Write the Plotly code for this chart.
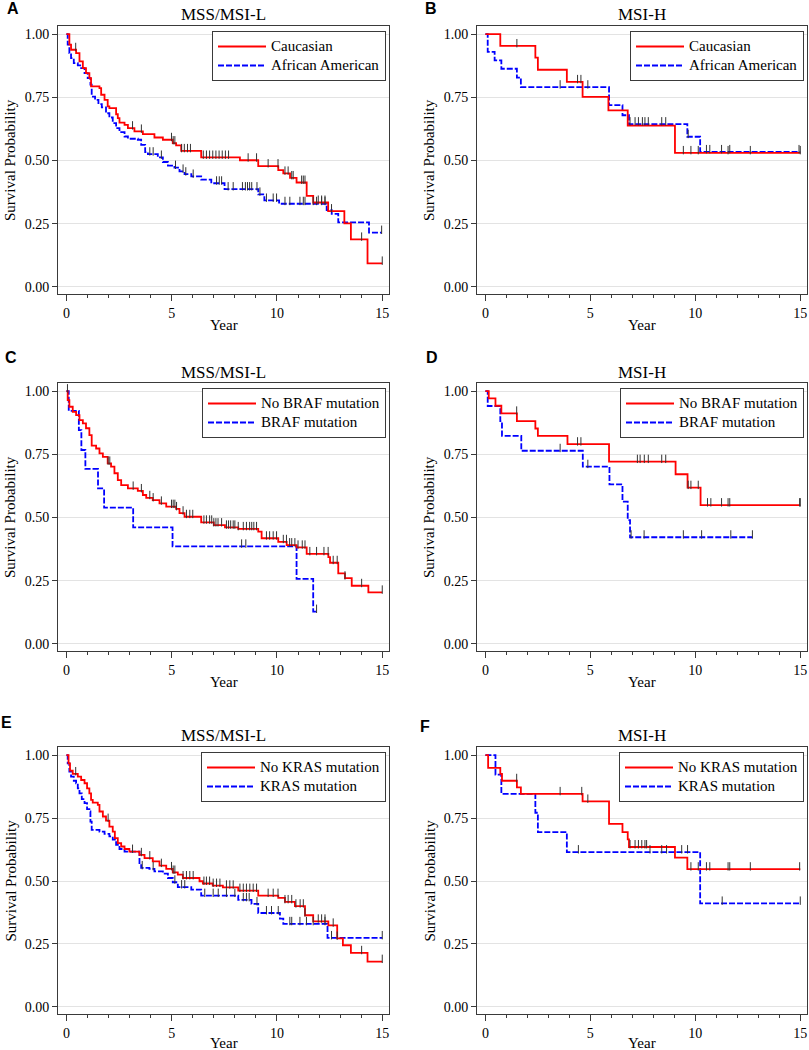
import numpy as np
import plotly.graph_objects as go

# ---------------- data ----------------
# Panel A: MSS/MSI-L, race
A_cau_t = [0, 0.14, 0.22, 0.46, 0.62, 0.78, 0.93, 1.09, 1.17, 1.57, 1.65, 1.81, 1.96, 2.04, 2.36, 2.44, 2.52, 2.76, 2.92, 3.23, 3.63, 4.18, 4.58, 5.05, 5.21, 5.45, 6.4, 8.24, 9.11, 10.06, 10.3, 10.62, 10.93, 11.41, 11.72, 12.43, 13.2, 13.51, 14.3, 15.0]
A_cau_s = [1.0, 0.958, 0.938, 0.925, 0.892, 0.865, 0.846, 0.826, 0.793, 0.786, 0.76, 0.74, 0.714, 0.707, 0.683, 0.668, 0.65, 0.641, 0.628, 0.615, 0.604, 0.591, 0.582, 0.569, 0.56, 0.538, 0.512, 0.501, 0.478, 0.462, 0.449, 0.431, 0.413, 0.36, 0.334, 0.30, 0.251, 0.188, 0.093, 0.093]
A_cau_c = [0.44, 3.14, 3.56, 4.99, 5.07, 5.15, 5.47, 5.6, 5.75, 5.89, 6.5, 6.65, 6.8, 6.95, 7.1, 7.25, 7.4, 7.55, 7.7, 8.63, 9.03, 9.58, 10.05, 10.38, 10.53, 10.7, 10.77, 11.17, 11.25, 11.33, 11.96, 12.12, 12.28, 12.59, 14.02, 15.0]
A_aa_t = [0, 0.06, 0.14, 0.22, 0.35, 0.54, 0.7, 0.86, 1.01, 1.14, 1.2, 1.36, 1.52, 1.68, 1.88, 2.04, 2.2, 2.36, 2.52, 2.76, 2.92, 3.39, 3.55, 3.74, 3.87, 4.34, 4.58, 4.82, 5.13, 5.37, 5.61, 5.93, 6.4, 6.88, 7.51, 9.11, 9.4, 10.1, 12.36, 12.6, 12.91, 14.37, 14.97]
A_aa_s = [1.0, 0.958, 0.925, 0.905, 0.885, 0.876, 0.865, 0.846, 0.826, 0.80, 0.753, 0.74, 0.723, 0.71, 0.687, 0.67, 0.648, 0.628, 0.612, 0.595, 0.586, 0.582, 0.562, 0.533, 0.525, 0.512, 0.494, 0.48, 0.472, 0.457, 0.446, 0.437, 0.424, 0.41, 0.387, 0.366, 0.342, 0.329, 0.304, 0.289, 0.255, 0.215, 0.215]
A_aa_c = [3.96, 4.12, 4.51, 5.18, 5.54, 5.67, 6.02, 7.13, 7.26, 7.37, 7.68, 7.92, 8.36, 8.5, 8.6, 8.7, 8.8, 9.05, 9.19, 9.5, 9.82, 9.98, 10.38, 10.61, 11.09, 11.25, 11.33, 11.72, 11.88, 12.12, 12.28, 14.97]

# Panel B: MSI-H, race
B_cau_t = [0, 0.71, 2.38, 2.5, 3.88, 4.63, 5.86, 6.78, 9.03, 15.0]
B_cau_s = [1.0, 0.953, 0.907, 0.859, 0.811, 0.752, 0.698, 0.638, 0.530, 0.530]
B_cau_c = [1.5, 4.39, 4.55, 9.43, 9.79, 10.14, 11.56, 12.62, 15.0]
B_aa_t = [0, 0.11, 0.44, 0.76, 1.5, 1.69, 5.89, 6.53, 6.84, 9.62, 10.23, 15.0]
B_aa_s = [1.0, 0.93, 0.896, 0.863, 0.828, 0.79, 0.719, 0.679, 0.644, 0.594, 0.534, 0.534]
B_aa_c = [3.56, 4.88, 6.89, 7.13, 7.29, 7.48, 7.6, 7.76, 8.4, 8.59, 9.66, 10.53, 10.69, 11.25, 11.64, 14.94]

# Panel C: MSS/MSI-L, BRAF
C_no_t = [0, 0.06, 0.14, 0.3, 0.46, 0.62, 0.78, 0.93, 1.09, 1.2, 1.41, 1.57, 1.73, 1.96, 2.12, 2.28, 2.44, 2.6, 2.92, 3.39, 3.63, 3.79, 4.1, 4.42, 4.74, 5.21, 5.37, 5.61, 6.4, 7.0, 7.53, 8.16, 9.11, 9.27, 10.06, 10.46, 10.93, 11.41, 12.44, 12.52, 12.91, 13.23, 13.55, 14.34, 15.0]
C_no_s = [1.0, 0.964, 0.938, 0.918, 0.905, 0.885, 0.872, 0.853, 0.826, 0.784, 0.773, 0.754, 0.74, 0.714, 0.701, 0.675, 0.648, 0.628, 0.615, 0.605, 0.589, 0.578, 0.569, 0.556, 0.543, 0.534, 0.517, 0.503, 0.481, 0.47, 0.461, 0.455, 0.444, 0.418, 0.404, 0.391, 0.382, 0.356, 0.343, 0.321, 0.279, 0.26, 0.23, 0.204, 0.204]
C_no_c = [1.98, 2.06, 3.17, 3.56, 3.96, 4.12, 4.51, 4.99, 5.07, 5.15, 5.23, 5.54, 5.7, 5.86, 6.0, 6.53, 6.65, 6.8, 6.9, 7.0, 7.1, 7.2, 7.37, 7.6, 7.7, 7.8, 7.92, 8.0, 8.16, 8.4, 8.55, 8.7, 8.8, 8.9, 9.03, 9.5, 9.65, 9.82, 9.98, 10.3, 10.45, 10.6, 10.7, 10.85, 11.0, 11.2, 11.33, 11.56, 11.88, 12.23, 12.43, 12.67, 12.86, 13.23, 14.02, 15.0]
C_braf_t = [0, 0.11, 0.59, 0.71, 0.9, 1.5, 1.79, 3.17, 5.04, 10.93, 11.72, 11.88]
C_braf_s = [1.0, 0.922, 0.846, 0.767, 0.692, 0.615, 0.539, 0.461, 0.386, 0.257, 0.128, 0.128]
C_braf_c = [0.05, 8.32, 8.52, 11.88]

# Panel D: MSI-H, BRAF
D_no_t = [0, 0.16, 0.48, 0.76, 1.5, 2.38, 2.5, 3.91, 5.89, 9.06, 9.63, 10.25, 15.0]
D_no_s = [1.0, 0.971, 0.942, 0.912, 0.881, 0.852, 0.823, 0.79, 0.721, 0.671, 0.618, 0.549, 0.549]
D_no_c = [1.49, 4.39, 4.55, 7.24, 7.37, 7.57, 7.76, 8.4, 8.59, 9.66, 9.79, 10.14, 10.58, 10.74, 11.25, 11.56, 11.64, 14.97, 15.0]
D_braf_t = [0, 0.11, 0.71, 0.79, 1.71, 4.64, 5.91, 6.53, 6.78, 6.89, 12.72]
D_braf_s = [1.0, 0.941, 0.881, 0.823, 0.764, 0.701, 0.631, 0.563, 0.49, 0.422, 0.422]
D_braf_c = [3.56, 4.88, 6.94, 7.56, 9.43, 10.3, 11.69, 12.72]

# Panel E: MSS/MSI-L, KRAS
E_no_t = [0, 0.1, 0.17, 0.3, 0.54, 0.7, 0.86, 0.98, 1.09, 1.17, 1.25, 1.49, 1.57, 1.73, 1.88, 2.04, 2.2, 2.3, 2.44, 2.6, 2.76, 2.99, 3.47, 3.71, 4.1, 4.42, 4.74, 5.05, 5.29, 5.53, 6.32, 6.48, 6.95, 7.43, 8.16, 9.11, 10.06, 10.38, 10.85, 11.33, 11.72, 12.44, 12.86, 13.13, 13.51, 14.3, 15.0]
E_no_s = [1.0, 0.967, 0.938, 0.925, 0.914, 0.901, 0.888, 0.868, 0.848, 0.822, 0.811, 0.802, 0.776, 0.756, 0.74, 0.716, 0.696, 0.67, 0.65, 0.637, 0.627, 0.617, 0.604, 0.591, 0.578, 0.561, 0.548, 0.534, 0.525, 0.512, 0.499, 0.49, 0.482, 0.475, 0.462, 0.442, 0.433, 0.417, 0.40, 0.364, 0.34, 0.324, 0.272, 0.245, 0.215, 0.18, 0.18]
E_no_c = [0.44, 1.98, 3.14, 3.56, 3.96, 4.51, 4.99, 5.07, 5.15, 5.54, 5.7, 5.86, 6.02, 6.53, 6.65, 6.8, 6.97, 7.13, 7.29, 7.6, 7.76, 7.92, 8.24, 8.4, 8.55, 8.71, 8.87, 9.03, 9.58, 9.82, 10.05, 10.38, 10.53, 10.7, 10.9, 11.1, 11.25, 11.33, 11.96, 12.12, 12.28, 12.67, 12.86, 14.02, 15.0]
E_kras_t = [0, 0.06, 0.14, 0.22, 0.35, 0.46, 0.54, 0.62, 0.73, 0.86, 0.98, 1.09, 1.14, 1.2, 1.57, 1.81, 2.04, 2.2, 2.36, 2.52, 2.76, 3.47, 3.55, 3.94, 4.18, 4.58, 4.82, 5.05, 5.29, 5.93, 6.4, 8.16, 8.79, 9.11, 10.14, 10.3, 12.4, 15.0]
E_kras_s = [1.0, 0.967, 0.934, 0.914, 0.898, 0.888, 0.868, 0.848, 0.825, 0.809, 0.785, 0.776, 0.736, 0.703, 0.696, 0.687, 0.677, 0.664, 0.644, 0.627, 0.617, 0.571, 0.552, 0.548, 0.538, 0.529, 0.512, 0.495, 0.476, 0.466, 0.442, 0.425, 0.409, 0.373, 0.351, 0.33, 0.274, 0.274]
E_kras_c = [3.6, 4.12, 5.15, 5.47, 5.62, 6.57, 6.97, 7.21, 7.6, 8.0, 8.4, 8.55, 8.68, 9.05, 9.5, 9.74, 10.06, 10.61, 10.7, 11.09, 11.4, 11.72, 12.28, 12.59, 15.0]

# Panel F: MSI-H, KRAS
F_no_t = [0, 0.13, 0.71, 0.79, 1.5, 1.69, 4.63, 5.89, 6.53, 6.78, 6.84, 9.03, 9.62, 15.0]
F_no_s = [1.0, 0.949, 0.925, 0.898, 0.872, 0.846, 0.816, 0.727, 0.694, 0.665, 0.635, 0.593, 0.547, 0.547]
F_no_c = [1.49, 3.56, 4.59, 4.88, 6.89, 7.13, 7.29, 7.45, 7.6, 7.68, 9.79, 10.14, 10.53, 10.69, 11.56, 11.64, 12.62, 14.97]
F_kras_t = [0, 0.48, 0.76, 2.38, 2.5, 3.88, 10.23, 15.0]
F_kras_s = [1.0, 0.922, 0.846, 0.771, 0.694, 0.615, 0.411, 0.411]
F_kras_c = [4.43, 7.84, 8.4, 8.63, 9.35, 9.63, 11.28, 15.0]

panel_letters = ["A", "B", "C", "D", "E", "F"]
panel_titles = ["MSS/MSI-L", "MSI-H", "MSS/MSI-L", "MSI-H", "MSS/MSI-L", "MSI-H"]
group_labels = [("Caucasian", "African American")] * 2 + \
               [("No BRAF mutation", "BRAF mutation")] * 2 + \
               [("No KRAS mutation", "KRAS mutation")] * 2
curves = [
    ((A_cau_t, A_cau_s, A_cau_c), (A_aa_t, A_aa_s, A_aa_c)),
    ((B_cau_t, B_cau_s, B_cau_c), (B_aa_t, B_aa_s, B_aa_c)),
    ((C_no_t, C_no_s, C_no_c), (C_braf_t, C_braf_s, C_braf_c)),
    ((D_no_t, D_no_s, D_no_c), (D_braf_t, D_braf_s, D_braf_c)),
    ((E_no_t, E_no_s, E_no_c), (E_kras_t, E_kras_s, E_kras_c)),
    ((F_no_t, F_no_s, F_no_c), (F_kras_t, F_kras_s, F_kras_c)),
]
x_ticks = [0, 5, 10, 15]
y_ticks = [0, 0.25, 0.5, 0.75, 1.0]

# ---------------- layout geometry (pixels) ----------------
W, H = 809, 1050
cols = [(58, 389), (477, 807)]
rows = [(26, 294), (383, 651), (747, 1014)]
title_y = [15, 372.7, 735.7]
year_off = [31, 31, 29]
letter_pos = [(13, 9), (431, 9), (11, 357), (432, 357), (6, 722), (425, 726)]

SERIF = "Liberation Serif, Times New Roman, serif"
SANS = "Liberation Sans, Arial, sans-serif"
RED = "#ff0000"
BLUE = "#0000ff"
FRAME = "#3a3a3a"


def step_value(t, s, x):
    t = np.asarray(t)
    s = np.asarray(s)
    idx = np.searchsorted(t, np.asarray(x), side="right") - 1
    idx = np.clip(idx, 0, len(s) - 1)
    return s[idx]


def big(label):
    # legend entries are drawn at 15px while rows are spaced as for 12px text
    return '<span style="font-size:15px">%s</span>' % label


fig = go.Figure()
annotations = []
layout_extra = {}

for i in range(6):
    r, c = divmod(i, 2)
    n = i + 1
    xa = "x" if n == 1 else f"x{n}"
    ya = "y" if n == 1 else f"y{n}"
    lg = "legend" if n == 1 else f"legend{n}"
    (t1, s1, c1), (t2, s2, c2) = curves[i]
    lab1, lab2 = group_labels[i]

    fig.add_trace(go.Scatter(x=t2, y=s2, mode="lines", line_shape="hv",
                             line=dict(color=BLUE, width=1.8, dash="6px,2px"),
                             name=big(lab2), xaxis=xa, yaxis=ya, legend=lg, legendrank=2))
    fig.add_trace(go.Scatter(x=t1, y=s1, mode="lines", line_shape="hv",
                             line=dict(color=RED, width=1.8),
                             name=big(lab1), xaxis=xa, yaxis=ya, legend=lg, legendrank=1))
    for (tt, ss, cc) in [(t1, s1, c1), (t2, s2, c2)]:
        cy = step_value(tt, ss, cc) + 0.011
        fig.add_trace(go.Scatter(x=cc, y=cy, mode="markers",
                                 marker=dict(symbol="line-ns", size=6,
                                             line=dict(color="#333333", width=1)),
                                 showlegend=False, hoverinfo="skip",
                                 xaxis=xa, yaxis=ya))

    x0, x1 = cols[c]
    y0, y1 = rows[r]
    xdom = [x0 / W, x1 / W]
    ydom = [1 - y1 / H, 1 - y0 / H]
    key = "" if n == 1 else str(n)
    layout_extra["xaxis" + key] = dict(
        domain=xdom, range=[-0.4, 15.32], anchor=ya, tickvals=x_ticks,
        ticks="outside", ticklen=6, tickcolor=FRAME, showgrid=False, zeroline=False,
        showline=True, linecolor=FRAME, linewidth=1, mirror=True,
        tickfont=dict(family=SERIF, size=14, color="black"),
        minor=dict(dtick=1, ticks="outside", ticklen=3, tickcolor=FRAME, showgrid=False),
    )
    layout_extra["yaxis" + key] = dict(
        domain=ydom, range=[-0.028, 1.032], anchor=xa, tickvals=y_ticks,
        tickformat=".2f", ticks="outside", ticklen=5, tickcolor=FRAME,
        showgrid=True, gridcolor="#e3e3e3", gridwidth=1, zeroline=False,
        showline=True, linecolor=FRAME, linewidth=1, mirror=True,
        tickfont=dict(family=SERIF, size=14, color="black"),
    )
    layout_extra[lg] = dict(
        x=(x1 - 3) / W, xanchor="right", y=1 - (y0 + 5) / H, yanchor="top",
        xref="paper", yref="paper",
        bgcolor="white", bordercolor=FRAME, borderwidth=1,
        font=dict(family=SERIF, size=12, color="black"),
        itemwidth=48, tracegroupgap=0, traceorder="normal",
    )

    cx = (x0 + x1) / 2
    annotations.append(dict(text=panel_titles[i], x=cx / W, y=1 - title_y[r] / H,
                            xref="paper", yref="paper", showarrow=False,
                            xanchor="center", yanchor="middle",
                            font=dict(family=SERIF, size=17, color="black")))
    annotations.append(dict(text="Year", x=cx / W, y=1 - (y1 + year_off[r]) / H,
                            xref="paper", yref="paper", showarrow=False,
                            xanchor="center", yanchor="middle",
                            font=dict(family=SERIF, size=15, color="black")))
    annotations.append(dict(text="Survival Probability", x=(x0 - 48) / W,
                            y=1 - ((y0 + y1) / 2) / H, textangle=-90,
                            xref="paper", yref="paper", showarrow=False,
                            xanchor="center", yanchor="middle",
                            font=dict(family=SERIF, size=15, color="black")))
    lx, ly = letter_pos[i]
    annotations.append(dict(text="<b>%s</b>" % panel_letters[i], x=lx / W, y=1 - ly / H,
                            xref="paper", yref="paper", showarrow=False,
                            xanchor="center", yanchor="middle",
                            font=dict(family=SANS, size=16, color="black")))

fig.update_layout(
    width=W, height=H, margin=dict(l=0, r=0, t=0, b=0),
    paper_bgcolor="white", plot_bgcolor="white",
    annotations=annotations, **layout_extra,
)

fig.write_html(
    "out.html",
    config={"displayModeBar": False},
    post_script="document.body.style.margin='0px';document.body.style.overflow='hidden';",
)
